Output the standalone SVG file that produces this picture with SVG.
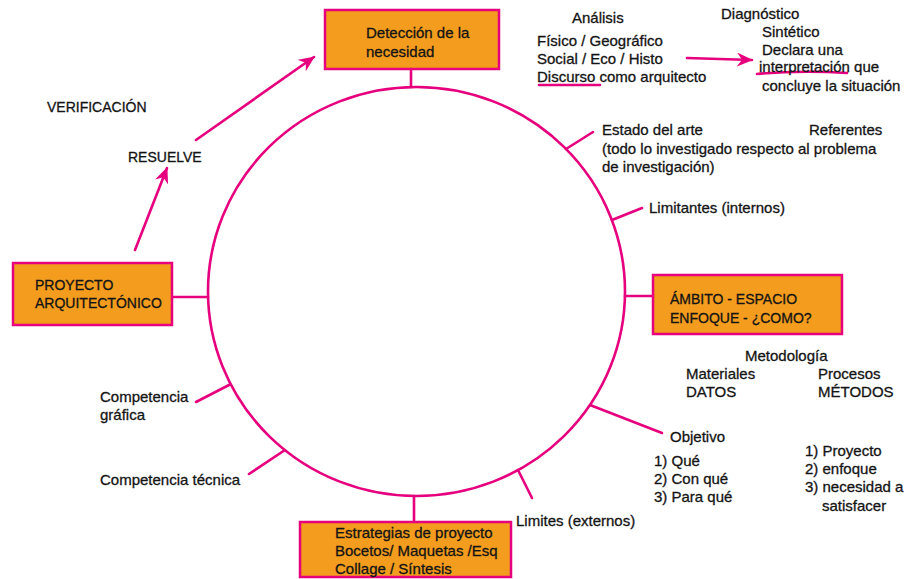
<svg xmlns="http://www.w3.org/2000/svg" width="912" height="579" viewBox="0 0 912 579">
<defs>
<style>
.t{font-family:"Liberation Sans",Arial,Helvetica,sans-serif;font-size:15px;fill:#141414;stroke:#141414;stroke-width:0.3}
.c{font-size:14px}
.ln{stroke:#E6007E;stroke-width:2.6;fill:none;stroke-linecap:round}
.box{fill:#F39C1E;stroke:#E6007E;stroke-width:2.5}
</style>
<marker id="ah" viewBox="0 0 16 14" refX="15" refY="7" markerWidth="16" markerHeight="14" markerUnits="userSpaceOnUse" orient="auto">
<path d="M0,0 L16,7 L0,14 L5,7 z" fill="#E6007E"/>
</marker>
</defs>
<rect width="912" height="579" fill="#ffffff"/>

<g id="connectors">
<ellipse class="ln" cx="416.5" cy="291.5" rx="208.5" ry="204.5" stroke-width="3"/>
<line class="ln" x1="411" y1="69" x2="411" y2="87"/>
<line class="ln" x1="172" y1="297" x2="208" y2="297"/>
<line class="ln" x1="625" y1="296" x2="653" y2="296"/>
<line class="ln" x1="414" y1="496" x2="414" y2="522"/>
<line class="ln" x1="566" y1="149" x2="593" y2="132"/>
<line class="ln" x1="612" y1="220" x2="642" y2="208"/>
<line class="ln" x1="590" y1="405" x2="662" y2="433"/>
<line class="ln" x1="518" y1="470" x2="532" y2="498"/>
<line class="ln" x1="229" y1="385" x2="196" y2="402"/>
<line class="ln" x1="285" y1="450" x2="249" y2="474"/>
<line class="ln" x1="196" y1="140" x2="314" y2="57" marker-end="url(#ah)"/>
<line class="ln" x1="135" y1="250" x2="167" y2="168" marker-end="url(#ah)"/>
<line class="ln" x1="687" y1="58" x2="752" y2="60" marker-end="url(#ah)"/>
<line class="ln" x1="539" y1="85" x2="600" y2="85" stroke-width="2"/>
<path class="ln" d="M757,74 Q800,70 847,73" stroke-width="2"/>
</g>

<g id="deteccion">
<rect class="box" x="325" y="10" width="174" height="59"/>
<text class="t" x="366" y="38">Detección de la</text>
<text class="t" x="366" y="57">necesidad</text>
</g>

<g id="proyecto">
<rect class="box" x="13" y="263" width="159" height="62"/>
<text class="t c" x="35" y="290">PROYECTO</text>
<text class="t c" x="35" y="308">ARQUITECTÓNICO</text>
</g>

<g id="ambito">
<rect class="box" x="653" y="275" width="189" height="59"/>
<text class="t c" x="670" y="304">ÁMBITO - ESPACIO</text>
<text class="t c" x="670" y="323">ENFOQUE - ¿COMO?</text>
</g>

<g id="estrategias">
<rect class="box" x="300" y="522" width="211" height="55"/>
<text class="t" x="335" y="538">Estrategias de proyecto</text>
<text class="t" x="335" y="556">Bocetos/ Maquetas /Esq</text>
<text class="t" x="335" y="574">Collage / Síntesis</text>
</g>

<g id="analisis">
<text class="t" x="572" y="23">Análisis</text>
<text class="t" x="537" y="46">Físico / Geográfico</text>
<text class="t" x="537" y="64">Social / Eco / Histo</text>
<text class="t" x="537" y="82">Discurso como arquitecto</text>
</g>

<g id="diagnostico">
<text class="t" x="721" y="19">Diagnóstico</text>
<text class="t" x="762" y="37">Sintético</text>
<text class="t" x="762" y="55">Declara una</text>
<text class="t" x="759" y="72">interpretación que</text>
<text class="t" x="762" y="91">concluye la situación</text>
</g>

<g id="verificacion">
<text class="t c" x="47" y="112">VERIFICACIÓN</text>
</g>
<g id="resuelve">
<text class="t c" x="128" y="162">RESUELVE</text>
</g>

<g id="estado">
<text class="t" x="602" y="135">Estado del arte</text>
<text class="t" x="809" y="135">Referentes</text>
<text class="t" x="602" y="154">(todo lo investigado respecto al problema</text>
<text class="t" x="602" y="172">de investigación)</text>
</g>

<g id="limitantes">
<text class="t" x="649" y="213">Limitantes (internos)</text>
</g>

<g id="metodologia">
<text class="t" x="745" y="361">Metodología</text>
<text class="t" x="686" y="379">Materiales</text>
<text class="t" x="686" y="397">DATOS</text>
<text class="t" x="818" y="379">Procesos</text>
<text class="t" x="818" y="397">MÉTODOS</text>
</g>

<g id="objetivo">
<text class="t" x="670" y="442">Objetivo</text>
<text class="t" x="654" y="466">1) Qué</text>
<text class="t" x="654" y="484">2) Con qué</text>
<text class="t" x="654" y="502">3) Para qué</text>
</g>

<g id="lista">
<text class="t" x="805" y="456">1) Proyecto</text>
<text class="t" x="805" y="474">2) enfoque</text>
<text class="t" x="805" y="492">3) necesidad a</text>
<text class="t" x="822" y="511">satisfacer</text>
</g>

<g id="limites">
<text class="t" x="516" y="526">Limites (externos)</text>
</g>

<g id="competencia-grafica">
<text class="t" x="100" y="402">Competencia</text>
<text class="t" x="100" y="420">gráfica</text>
</g>

<g id="competencia-tecnica">
<text class="t" x="100" y="485">Competencia técnica</text>
</g>
</svg>
